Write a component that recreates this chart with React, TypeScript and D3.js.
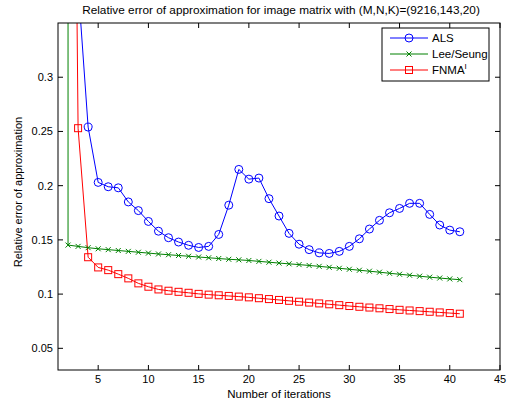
import React from "react";
import * as d3 from "d3";

const alsIter = [2, 3, 4, 5, 6, 7, 8, 9, 10, 11, 12, 13, 14, 15, 16, 17, 18, 19, 20, 21, 22, 23, 24, 25, 26, 27, 28, 29, 30, 31, 32, 33, 34, 35, 36, 37, 38, 39, 40, 41];
const alsValues = [0.7, 0.385, 0.254, 0.203, 0.199, 0.198, 0.185, 0.177, 0.167, 0.158, 0.152, 0.148, 0.145, 0.143, 0.144, 0.155, 0.182, 0.215, 0.206, 0.207, 0.188, 0.172, 0.156, 0.146, 0.141, 0.138, 0.1375, 0.1394, 0.144, 0.151, 0.160, 0.168, 0.175, 0.179, 0.1837, 0.1837, 0.1735, 0.1637, 0.159, 0.1575];

const leeIter = [2, 2, 3, 4, 5, 6, 7, 8, 9, 10, 11, 12, 13, 14, 15, 16, 17, 18, 19, 20, 21, 22, 23, 24, 25, 26, 27, 28, 29, 30, 31, 32, 33, 34, 35, 36, 37, 38, 39, 40, 41];
const leeValues = [1.0, 0.1452, 0.144, 0.1428, 0.1418, 0.141, 0.1402, 0.1394, 0.1386, 0.1378, 0.137, 0.1363, 0.1356, 0.1349, 0.1342, 0.1335, 0.1328, 0.1321, 0.1316, 0.131, 0.1302, 0.1294, 0.1286, 0.1279, 0.1272, 0.1264, 0.1256, 0.1247, 0.1238, 0.1229, 0.122, 0.1211, 0.1202, 0.1192, 0.1183, 0.1174, 0.1165, 0.1156, 0.1148, 0.114, 0.1133];

const fnmaIter = [2, 3, 4, 5, 6, 7, 8, 9, 10, 11, 12, 13, 14, 15, 16, 17, 18, 19, 20, 21, 22, 23, 24, 25, 26, 27, 28, 29, 30, 31, 32, 33, 34, 35, 36, 37, 38, 39, 40, 41];
const fnmaValues = [1.2, 0.253, 0.134, 0.1246, 0.1221, 0.1184, 0.1145, 0.1099, 0.1068, 0.1043, 0.1031, 0.1021, 0.1012, 0.1002, 0.0995, 0.0989, 0.0983, 0.0977, 0.097, 0.0962, 0.0954, 0.0946, 0.0938, 0.093, 0.0922, 0.0914, 0.0906, 0.0898, 0.089, 0.0883, 0.0876, 0.0869, 0.0862, 0.0855, 0.0849, 0.0843, 0.0837, 0.0831, 0.0825, 0.0819];

const xTicks = [5, 10, 15, 20, 25, 30, 35, 40, 45];
const yTicks = [0.05, 0.1, 0.15, 0.2, 0.25, 0.3];

const title = "Relative error of approximation for image matrix with (M,N,K)=(9216,143,20)";
const xLabel = "Number of iterations";
const yLabel = "Relative error of approximation";

const W = 512, H = 402;
const L = 58, R = 500, T = 23, B = 370;
const FONT = "'Liberation Sans', Arial, sans-serif";

export default function App() {
  const x = d3.scaleLinear().domain([1, 45]).range([L, R]);
  const y = d3.scaleLinear().domain([0.03, 0.35]).range([B, T]);
  const line = d3.line<[number, number]>().x(d => x(d[0])).y(d => y(d[1]));

  const als = alsIter.map((v, i) => [v, alsValues[i]] as [number, number]);
  const lee = leeIter.map((v, i) => [v, leeValues[i]] as [number, number]);
  const fnma = fnmaIter.map((v, i) => [v, fnmaValues[i]] as [number, number]);

  const tick = 5;
  const inside = (p: [number, number]) => p[1] <= 0.35 && p[1] >= 0.03;

  const circle = (cx: number, cy: number, k: string) => (
    <circle key={k} cx={cx} cy={cy} r={4} fill="none" stroke="#0000ff" strokeWidth={1} />
  );
  const cross = (cx: number, cy: number, k: string) => (
    <path key={k} d={`M${cx - 2.5},${cy - 2.5}L${cx + 2.5},${cy + 2.5}M${cx - 2.5},${cy + 2.5}L${cx + 2.5},${cy - 2.5}`} stroke="#008000" strokeWidth={1} />
  );
  const square = (cx: number, cy: number, k: string) => (
    <rect key={k} x={cx - 3.5} y={cy - 3.5} width={7} height={7} fill="none" stroke="#ff0000" strokeWidth={1} />
  );

  const lx0 = 390, lx1 = 428;
  const legendRows = [
    { label: "ALS", color: "#0000ff", marker: circle, y: 38 },
    { label: "Lee/Seung", color: "#008000", marker: cross, y: 54 },
    { label: "FNMA", color: "#ff0000", marker: square, y: 70 },
  ];

  return (
    <svg width={W} height={H} style={{ position: "absolute", left: 0, top: 0, background: "#fff" }} fontFamily={FONT}>
      <defs>
        <clipPath id="plot">
          <rect x={L} y={T} width={R - L} height={B - T} />
        </clipPath>
      </defs>
      <rect x={0} y={0} width={W} height={H} fill="#fff" />
      <text x={281} y={14} fontSize={11.8} textAnchor="middle">{title}</text>

      <g clipPath="url(#plot)">
        <path d={line(lee) || ""} fill="none" stroke="#008000" strokeWidth={1} />
        <path d={line(fnma) || ""} fill="none" stroke="#ff0000" strokeWidth={1} />
        <path d={line(als) || ""} fill="none" stroke="#0000ff" strokeWidth={1} />
        {lee.filter(inside).map((p, i) => cross(x(p[0]), y(p[1]), "l" + i))}
        {fnma.filter(inside).map((p, i) => square(x(p[0]), y(p[1]), "f" + i))}
        {als.filter(inside).map((p, i) => circle(x(p[0]), y(p[1]), "a" + i))}
      </g>

      <rect x={L} y={T} width={R - L} height={B - T} fill="none" stroke="#000" strokeWidth={1} />
      {xTicks.map(t => (
        <g key={"xt" + t}>
          <line x1={x(t)} x2={x(t)} y1={B} y2={B - tick} stroke="#000" />
          <line x1={x(t)} x2={x(t)} y1={T} y2={T + tick} stroke="#000" />
          <text x={x(t)} y={B + 13} fontSize={11} textAnchor="middle">{t}</text>
        </g>
      ))}
      {yTicks.map(t => (
        <g key={"yt" + t}>
          <line x1={L} x2={L + tick} y1={y(t)} y2={y(t)} stroke="#000" />
          <line x1={R} x2={R - tick} y1={y(t)} y2={y(t)} stroke="#000" />
          <text x={L - 5} y={y(t) + 4} fontSize={11} textAnchor="end">{String(t)}</text>
        </g>
      ))}
      <text x={279} y={397.5} fontSize={11.5} textAnchor="middle">{xLabel}</text>
      <text transform={`translate(22,192) rotate(-90)`} fontSize={11} textAnchor="middle">{yLabel}</text>

      <rect x={382} y={28} width={107} height={53} fill="#fff" stroke="#000" strokeWidth={1} />
      {legendRows.map(r => (
        <g key={r.label}>
          <line x1={lx0} x2={lx1} y1={r.y} y2={r.y} stroke={r.color} strokeWidth={1} />
          {r.marker((lx0 + lx1) / 2, r.y, "m" + r.label)}
          <text x={432} y={r.y + 4} fontSize={11.5}>
            {r.label}
            {r.label === "FNMA" ? <tspan dy={-5} fontSize={8}>I</tspan> : null}
          </text>
        </g>
      ))}
    </svg>
  );
}
